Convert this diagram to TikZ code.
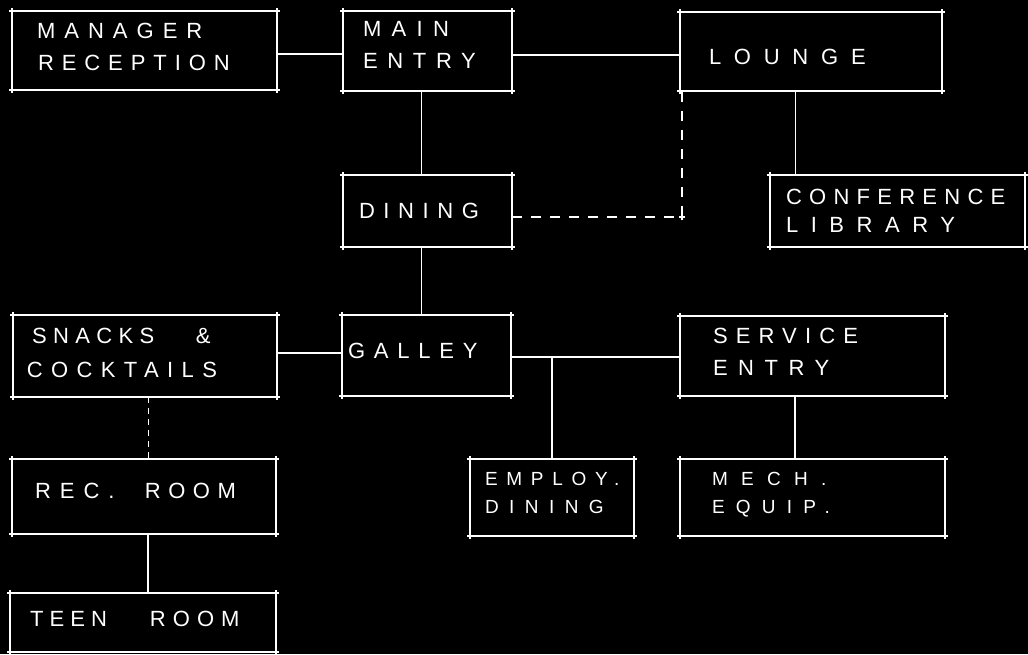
\documentclass[tikz,border=0pt]{standalone}
\usepackage{fontspec}
\setmainfont[LetterSpace=40]{Liberation Sans}
\begin{document}
\begin{tikzpicture}[x=1pt,y=-1pt,
  room/.style={draw=white,line width=1.6pt,inner sep=0pt,outer sep=0pt,rectangle},
  lbl/.style={text=white,anchor=base west,inner sep=0pt,outer sep=0pt,font=\fontsize{22}{26}\selectfont\addfontfeature{LetterSpace=#1}},
  slbl/.style={text=white,anchor=base west,inner sep=0pt,outer sep=0pt,font=\fontsize{19}{23}\selectfont\addfontfeature{LetterSpace=#1}},
  link/.style={draw=white,line width=1.2pt},
  thinlink/.style={draw=white,line width=0.8pt},
  dlink/.style={draw=white,line width=1.3pt,dash pattern=on 10pt off 9pt},
  tick/.style={draw=white,line width=1.2pt}]
\fill[black] (0,0) rectangle (1028,654);
\useasboundingbox (0,0) rectangle (1028,654);
% rooms
\node[room,minimum width=265pt,minimum height=79pt] (mgr) at (144.5,50.5) {};
\node[room,minimum width=169pt,minimum height=80pt] (main) at (427.5,51) {};
\node[room,minimum width=262pt,minimum height=79pt] (lounge) at (811,51.5) {};
\node[room,minimum width=169pt,minimum height=72pt] (dining) at (427.5,211) {};
\node[room,minimum width=255pt,minimum height=72pt] (conf) at (897.5,211) {};
\node[room,minimum width=264pt,minimum height=82pt] (snacks) at (145,356) {};
\node[room,minimum width=169pt,minimum height=81pt] (galley) at (426.5,355.5) {};
\node[room,minimum width=265pt,minimum height=80pt] (service) at (812.5,356) {};
\node[room,minimum width=264pt,minimum height=75pt] (rec) at (144,496.5) {};
\node[room,minimum width=164pt,minimum height=77pt] (employ) at (552,497.5) {};
\node[room,minimum width=265pt,minimum height=77pt] (mech) at (812.5,497.5) {};
\node[room,minimum width=266pt,minimum height=59pt] (teen) at (143,622.5) {};
% corner overshoots
\foreach \n in {mgr,main,lounge,dining,conf,snacks,galley,service,rec,employ,mech,teen}{
  \draw[tick] ([xshift=-3pt]\n.north west) -- ([xshift=3pt]\n.north west);
  \draw[tick] ([yshift=3pt]\n.north west) -- ([yshift=-3pt]\n.north west);
  \draw[tick] ([xshift=-3pt]\n.north east) -- ([xshift=3pt]\n.north east);
  \draw[tick] ([yshift=3pt]\n.north east) -- ([yshift=-3pt]\n.north east);
  \draw[tick] ([xshift=-3pt]\n.south west) -- ([xshift=3pt]\n.south west);
  \draw[tick] ([yshift=3pt]\n.south west) -- ([yshift=-3pt]\n.south west);
  \draw[tick] ([xshift=-3pt]\n.south east) -- ([xshift=3pt]\n.south east);
  \draw[tick] ([yshift=3pt]\n.south east) -- ([yshift=-3pt]\n.south east);
}
% labels
\node[lbl=41] (t1a) at (37,38) {MANAGER};
\node[lbl=36] (t1b) at (38,70) {RECEPTION};
\node[lbl=47] (t2a) at (363,36) {MAIN};
\node[lbl=44] (t2b) at (363,68) {ENTRY};
\node[lbl=58] (t3) at (709,64) {LOUNGE};
\node[lbl=39] (t4) at (359,218) {DINING};
\node[lbl=33] (t5a) at (786,204) {CONFERENCE};
\node[lbl=57] (t5b) at (786,232) {LIBRARY};
\node[lbl=29] (t6a) at (32,343) {\makebox[164pt][l]{SNACKS}\&};
\node[lbl=38] (t6b) at (27,377) {COCKTAILS};
\node[lbl=40] (t7) at (348,358) {GALLEY};
\node[lbl=37] (t8a) at (713,343) {SERVICE};
\node[lbl=48] (t8b) at (713,375) {ENTRY};
\node[lbl=34] (t9) at (35,498) {\makebox[110pt][l]{\addfontfeature{LetterSpace=41}REC.}ROOM};
\node[slbl=46] (t10a) at (485,485) {EMPLOY.};
\node[slbl=55] (t10b) at (485,513) {DINING};
\node[slbl=70] (t11a) at (712,485) {MECH.};
\node[slbl=59] (t11b) at (712,513) {EQUIP.};
\node[lbl=28] (t12) at (30,626) {\makebox[120pt][l]{TEEN}\addfontfeature{LetterSpace=32}ROOM};
% connectors
\draw[link] ([yshift=-3.5pt]mgr.east) -- ([yshift=-3.5pt]mgr.east -| main.west);
\draw[link] ([yshift=-4pt]main.east) -- ([yshift=-4pt]main.east -| lounge.west);
\draw[thinlink] ([xshift=-6pt]main.south) -- ([xshift=-6pt]main.south |- dining.north);
\draw[link] ([xshift=-6pt]dining.south) -- ([xshift=-6pt]dining.south |- galley.north);
\draw[dlink] ([yshift=-6pt]dining.east) -| ([xshift=2pt]lounge.south west);
\coordinate (dc) at ([yshift=-6pt,xshift=2pt]dining.east -| lounge.south west);
\draw[tick] ([xshift=-3pt]dc) -- ([xshift=3pt]dc);
\draw[tick] ([yshift=3pt]dc) -- ([yshift=-3pt]dc);
\draw[thinlink] ([xshift=-16pt]lounge.south) -- ([xshift=-16pt]lounge.south |- conf.north);
\draw[link] ([yshift=3pt]snacks.east) -- ([yshift=3pt]snacks.east -| galley.west);
\draw[link] ([yshift=-1.5pt]galley.east) -- ([yshift=-1.5pt]galley.east -| service.west);
\coordinate (br) at ([yshift=-1.5pt]galley.east -| employ.north);
\draw[link] (br) -- (employ.north);
\draw[dlink,line width=1pt,dash pattern=on 6pt off 5pt] ([xshift=3pt]snacks.south) -- ([xshift=3pt]snacks.south |- rec.north);
\draw[link] ([xshift=4pt]rec.south) -- ([xshift=4pt]rec.south |- teen.north);
\draw[link] ([xshift=-17.5pt]service.south) -- ([xshift=-17.5pt]service.south |- mech.north);
\end{tikzpicture}
\end{document}
